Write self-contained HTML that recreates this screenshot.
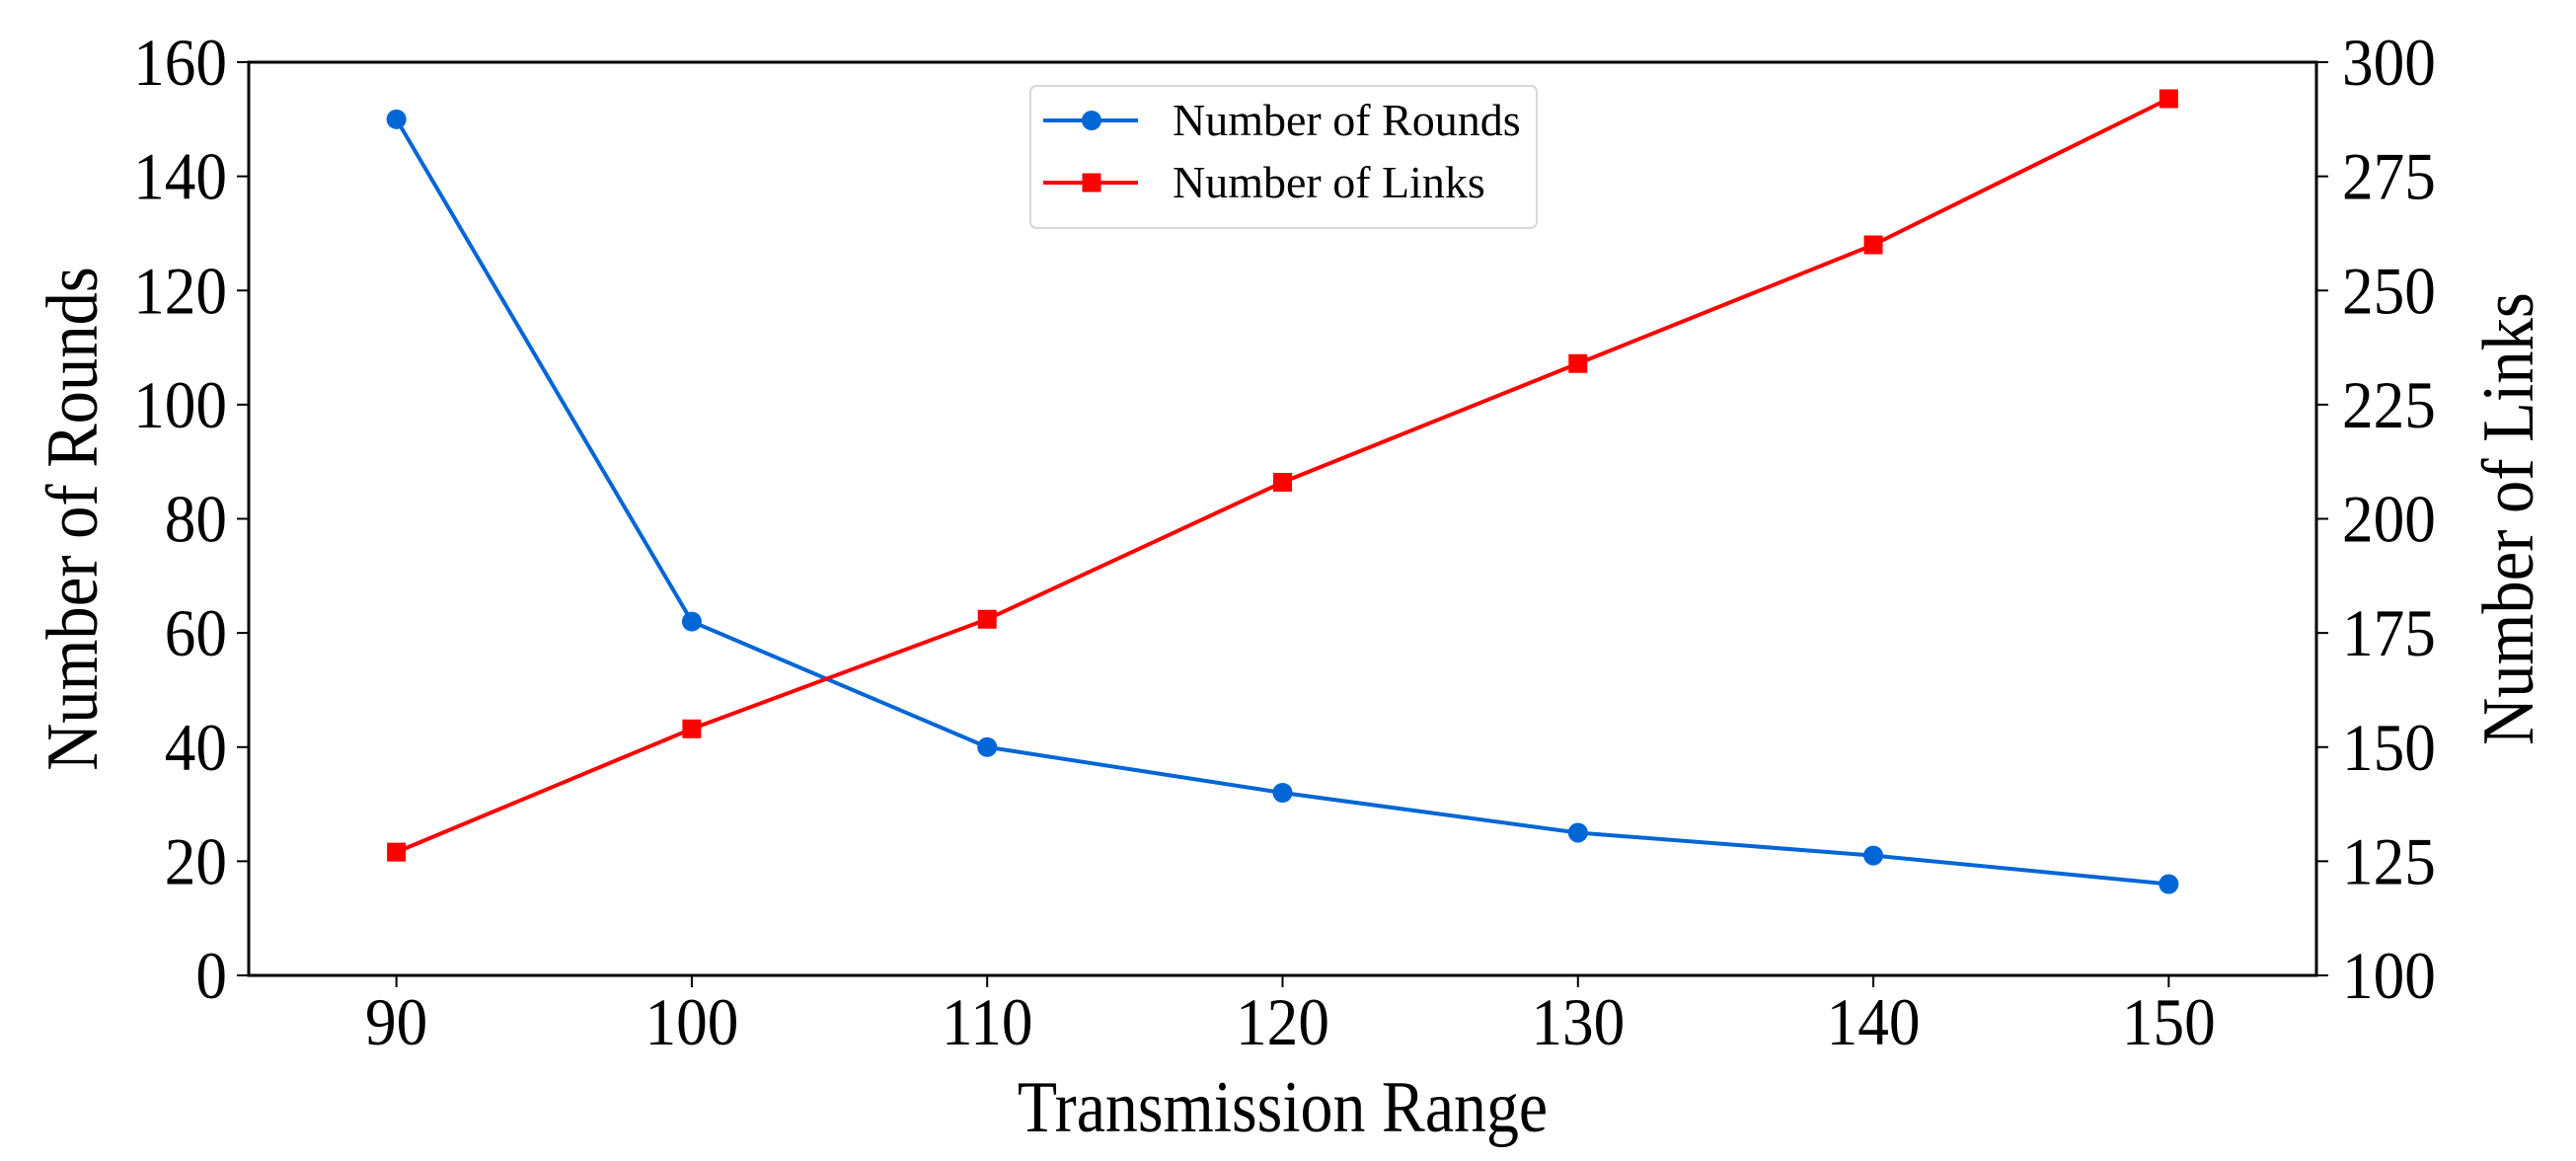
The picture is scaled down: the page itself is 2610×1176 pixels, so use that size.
<!DOCTYPE html>
<html><head><meta charset="utf-8"><style>
html,body{margin:0;padding:0;background:#fff}
svg{display:block}
text{font-family:"Liberation Serif",serif;fill:#000}
</style></head><body>
<svg id="chart" width="2610" height="1176" viewBox="0 0 2610 1176">
</svg>
<script>
const categories=[90,100,110,120,130,140,150];
const rounds=[150,62,40,32,25,21,16];
const links=[127,154,178,208,234,260,292];
const leftTicks=[0,20,40,60,80,100,120,140,160];
const rightTicks=[100,125,150,175,200,225,250,275,300];
const xTicks=[90,100,110,120,130,140,150];

const L=252,R=2347,T=63,B=988;
const NS="http://www.w3.org/2000/svg";
const svg=document.getElementById('chart');
const xs=v=>L+(v-85)/(155-85)*(R-L);
const yl=v=>B-(v-0)/160*(B-T);
const yr=v=>B-(v-100)/200*(B-T);
function mk(tag,attrs,parent){const e=document.createElementNS(NS,tag);for(const k in attrs)e.setAttribute(k,attrs[k]);(parent||svg).appendChild(e);return e;}
function squeeze(t,f){const w=t.getComputedTextLength();t.setAttribute('textLength',(w*f).toFixed(1));t.setAttribute('lengthAdjust','spacingAndGlyphs');}

xTicks.forEach(v=>{
  const g=mk('g',{});
  
  
  mk('line',{x1:xs(v),x2:xs(v),y1:B,y2:B+12,stroke:'#000','stroke-width':2},g);
  const t=mk('text',{x:xs(v),y:B+70,'text-anchor':'middle','font-size':68},g);t.textContent=v;squeeze(t,0.93);
});
leftTicks.forEach(v=>{
  const g=mk('g',{});
  
  
  mk('line',{x1:L-12,x2:L,y1:yl(v),y2:yl(v),stroke:'#000','stroke-width':2},g);
  const t=mk('text',{x:L-22,y:yl(v)+23,'text-anchor':'end','font-size':68},g);t.textContent=v;squeeze(t,0.93);
});
rightTicks.forEach(v=>{
  const g=mk('g',{});
  
  
  mk('line',{x1:R,x2:R+12,y1:yr(v),y2:yr(v),stroke:'#000','stroke-width':2},g);
  const t=mk('text',{x:R+26,y:yr(v)+23,'text-anchor':'start','font-size':68},g);t.textContent=v;squeeze(t,0.93);
});

const pr=mk('polyline',{points:categories.map((c,i)=>xs(c)+','+yl(rounds[i])).join(' '),fill:'none',stroke:'#0066d6','stroke-width':4});


categories.forEach((c,i)=>{
  const m=mk('circle',{cx:xs(c),cy:yl(rounds[i]),r:10,fill:'#0066d6'});
  
  
});
const pl=mk('polyline',{points:categories.map((c,i)=>xs(c)+','+yr(links[i])).join(' '),fill:'none',stroke:'#ff0000','stroke-width':4});


categories.forEach((c,i)=>{
  const m=mk('rect',{x:xs(c)-9.5,y:yr(links[i])-9.5,width:19,height:19,fill:'#ff0000'});
  
  
});

const fr=mk('rect',{x:L,y:T,width:R-L,height:B-T,fill:'none',stroke:'#000','stroke-width':3});



const lg=mk('g',{});


mk('rect',{x:1044,y:87,width:513,height:144,rx:6,fill:'#fff',stroke:'#d8d8d8','stroke-width':2},lg);
const e1=mk('g',{},lg);


mk('line',{x1:1057,x2:1153,y1:122,y2:122,stroke:'#0066d6','stroke-width':4},e1);
mk('circle',{cx:1106,cy:122,r:10,fill:'#0066d6'},e1);
const t1=mk('text',{x:1188,y:137,'font-size':46},e1);t1.textContent='Number of Rounds';
const e2=mk('g',{},lg);


mk('line',{x1:1057,x2:1153,y1:185,y2:185,stroke:'#ff0000','stroke-width':4},e2);
mk('rect',{x:1096.5,y:175.5,width:19,height:19,fill:'#ff0000'},e2);
const t2=mk('text',{x:1188,y:200,'font-size':46},e2);t2.textContent='Number of Links';

const xt=mk('text',{x:(L+R)/2,y:1146,'text-anchor':'middle','font-size':74});
xt.textContent='Transmission Range';


squeeze(xt,0.89);
const ylt=mk('text',{x:0,y:0,'text-anchor':'middle','font-size':74,transform:'translate(98,'+((T+B)/2)+') rotate(-90)'});
ylt.textContent='Number of Rounds';


squeeze(ylt,0.9);
const yrt=mk('text',{x:0,y:0,'text-anchor':'middle','font-size':74,transform:'translate(2566,'+((T+B)/2)+') rotate(-90)'});
yrt.textContent='Number of Links';


squeeze(yrt,0.9);
</script>
</body></html>
